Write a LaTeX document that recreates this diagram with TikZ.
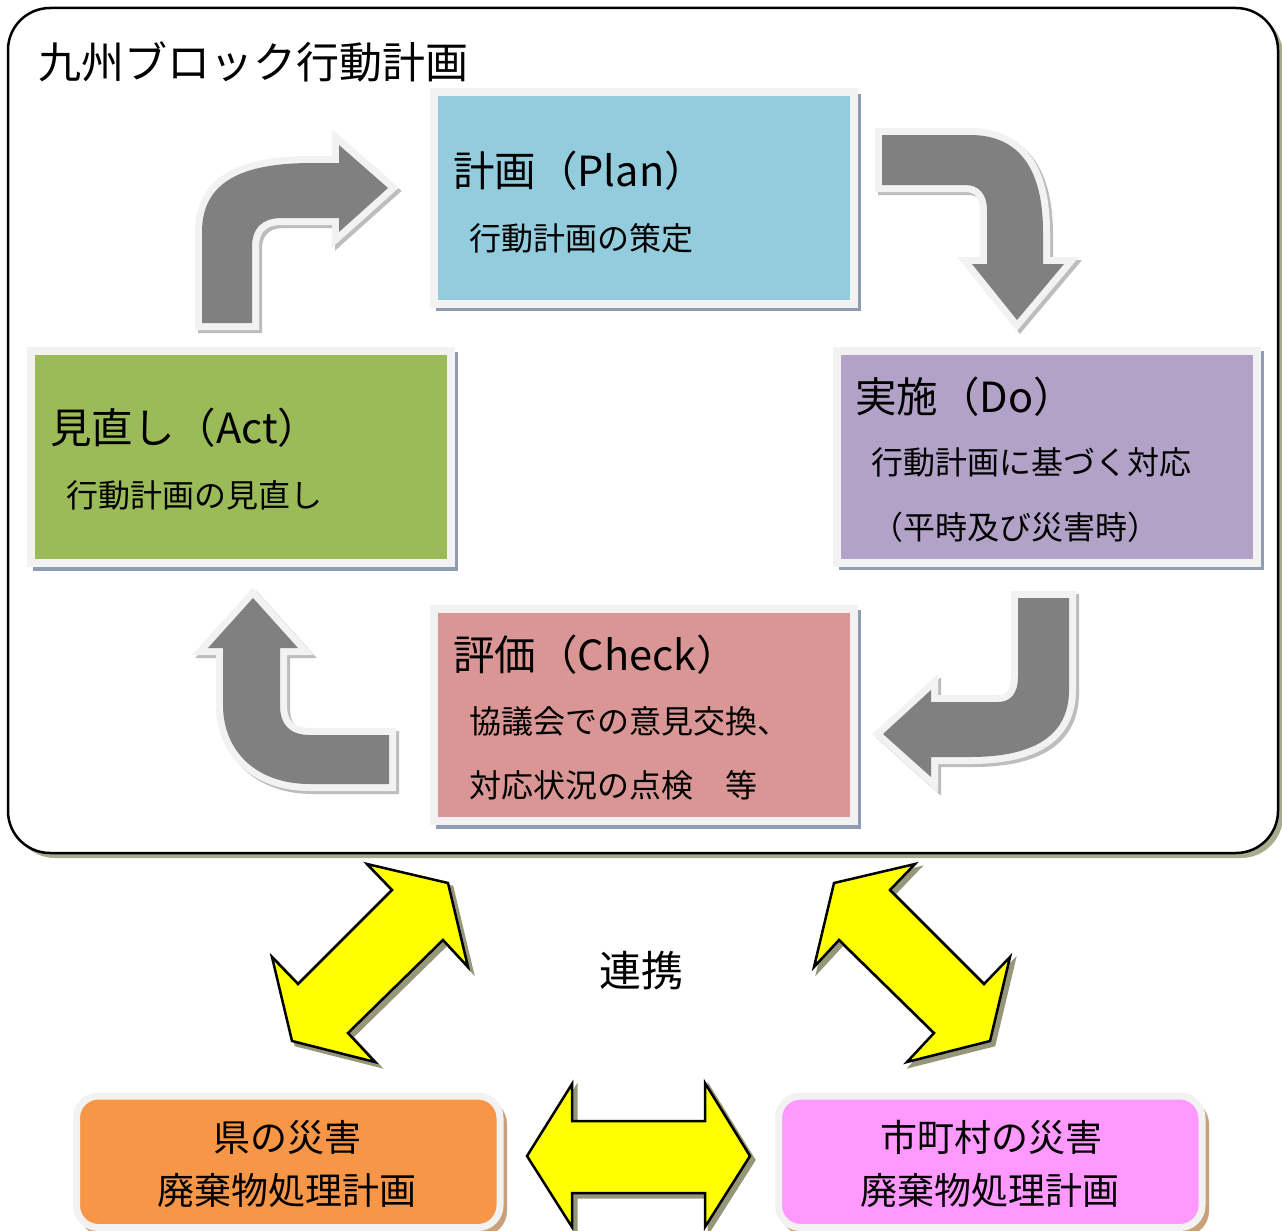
\documentclass[tikz,border=0pt]{standalone}
\usepackage{fontspec}
\setmainfont{Noto Sans CJK JP}
\definecolor{framegray}{HTML}{F2F2F2}
\definecolor{arrowgray}{HTML}{808080}
\definecolor{arrowshadow}{HTML}{BDBDBD}
\definecolor{mainshadow}{RGB}{166,173,142}
\definecolor{boxshadow}{RGB}{146,156,176}
\definecolor{planblue}{HTML}{93CDDD}
\definecolor{dopurple}{HTML}{B3A2C7}
\definecolor{actgreen}{HTML}{9BBB59}
\definecolor{checkred}{HTML}{D99694}
\definecolor{orangebox}{HTML}{F79646}
\definecolor{pinkbox}{HTML}{FF99FF}
\definecolor{tanshadow}{RGB}{200,160,122}
\definecolor{yshadow}{RGB}{150,150,120}
\definecolor{pureyellow}{RGB}{255,255,0}
\begin{document}
\begin{tikzpicture}[x=1pt,y=-1pt,
  pdcabox/.style={draw=framegray, line width=8pt, minimum width=420pt, minimum height=212pt, inner sep=0pt, outer sep=0pt},
  bbox/.style={draw=framegray, line width=7pt, rounded corners=22pt, minimum width=423.5pt, minimum height=131.5pt, inner sep=0pt, outer sep=0pt},
  ttl/.style={anchor=base west, font=\fontsize{41.5}{50}\selectfont, inner sep=0pt},
  subtxt/.style={anchor=base west, font=\fontsize{32}{38}\selectfont, inner sep=0pt},
  btxt/.style={anchor=base, font=\fontsize{37}{44}\selectfont, inner sep=0pt},
  grayarrow/.style={fill=arrowgray,
    preaction={draw=arrowshadow, fill=arrowshadow, line width=14pt, line join=miter, transform canvas={shift={(3,3)}}},
    preaction={draw=framegray, line width=14pt, line join=miter}},
  yarrow/.style={fill=pureyellow, draw=black, line width=2.5pt, line join=miter,
    preaction={fill=yshadow, draw=yshadow, line width=3pt, transform canvas={shift={(4,4)}}}}
]
\useasboundingbox (0,0) rectangle (1282,1231);

% main frame
\fill[mainshadow, rounded corners=42pt] (13,13) rectangle (1283,858);
\draw[line width=2.5pt, fill=white, rounded corners=42pt] (8,8) rectangle (1278,853);
\node[anchor=base west, font=\fontsize{43}{50}\selectfont, inner sep=0pt] (title) at (38,78) {九州ブロック行動計画};

% box shadows
\fill[boxshadow] (436,94) rectangle (861,311);
\fill[boxshadow] (839,351) rectangle (1264,570);
\fill[boxshadow] (33,352) rectangle (458,571);
\fill[boxshadow] (436,610) rectangle (861,829);

% PDCA boxes
\node[pdcabox, fill=planblue] (plan) at (644,198) {};
\node[pdcabox, fill=dopurple] (do) at (1047,457) {};
\node[pdcabox, fill=actgreen] (act) at (241,457) {};
\node[pdcabox, fill=checkred] (check) at (644,715) {};

% box texts
\node[ttl] (plantitle) at (453,186) {計画（Plan）};
\node[subtxt] (plansub) at (469,250) {行動計画の策定};
\node[ttl] (dotitle) at (855,412) {実施（Do）};
\node[subtxt] (dosub1) at (871,474) {行動計画に基づく対応};
\node[subtxt] (dosub2) at (871,539) {（平時及び災害時）};
\node[ttl] (acttitle) at (50,443) {見直し（Act）};
\node[subtxt] (actsub) at (66,507) {行動計画の見直し};
\node[ttl] (checktitle) at (453,670) {評価（Check）};
\node[subtxt] (checksub1) at (469,733) {協議会での意見交換、};
\node[subtxt] (checksub2) at (469,797) {対応状況の点検　等};

% gray cycle arrows
\path[grayarrow] (202,323) -- (202,232) .. controls (202,177) and (250,163) .. (313,163) -- (339,163) -- (339,145) -- (388,188) -- (339,232) -- (339,218) -- (282,218) .. controls (262,218) and (252,228) .. (252,247) -- (252,323) -- cycle;
\path[grayarrow] (882,135) -- (970,135) .. controls (1020,135) and (1043,170) .. (1043,232) -- (1043,264) -- (1064,264) -- (1017,320) -- (972,264) -- (987,264) -- (987,210) .. controls (987,194) and (979,185) .. (965,185) -- (882,185) -- cycle;
\path[grayarrow] (1018,598) -- (1069,598) -- (1069,690) .. controls (1069,735) and (1035,757) .. (970,757) -- (931,757) -- (931,777) -- (883,734) -- (931,690) -- (931,702) -- (998,702) .. controls (1010,702) and (1018,694) .. (1018,677) -- cycle;
\path[grayarrow] (253,598) -- (298,648) -- (280,648) -- (280,705) .. controls (280,725) and (290,735) .. (310,735) -- (389,735) -- (389,784) -- (310,784) .. controls (255,784) and (223,750) .. (223,705) -- (223,648) -- (208,648) -- cycle;

% yellow arrows
\path[yarrow] (367,864) -- (448,883) -- (468,967) -- (443,940) -- (348,1033) -- (375,1062) -- (292,1041) -- (272,957) -- (298,984) -- (392,890) -- cycle;
\path[yarrow] (915,864) -- (834,883) -- (814,967) -- (839,940) -- (934,1033) -- (907,1062) -- (990,1041) -- (1010,957) -- (984,984) -- (890,890) -- cycle;
\path[yarrow] (527,1156) -- (572,1084) -- (572,1121) -- (705,1121) -- (705,1083) -- (750,1156) -- (705,1227) -- (705,1193) -- (572,1193) -- (572,1227) -- cycle;

\node[anchor=base, font=\fontsize{42}{50}\selectfont, inner sep=0pt] (renkei) at (641,986) {連携};

% bottom boxes
\fill[tanshadow, rounded corners=25pt] (79,1099) rectangle (507,1236);
\fill[tanshadow, rounded corners=25pt] (781,1099) rectangle (1209,1236);
\node[bbox, fill=orangebox] (pref) at (288.25,1161.75) {};
\node[bbox, fill=pinkbox] (muni) at (990.25,1161.75) {};
\node[btxt] (pref1) at (287,1151) {県の災害};
\node[btxt] (pref2) at (287,1204) {廃棄物処理計画};
\node[btxt] (muni1) at (991,1151) {市町村の災害};
\node[btxt] (muni2) at (990,1204) {廃棄物処理計画};
\end{tikzpicture}
\end{document}
